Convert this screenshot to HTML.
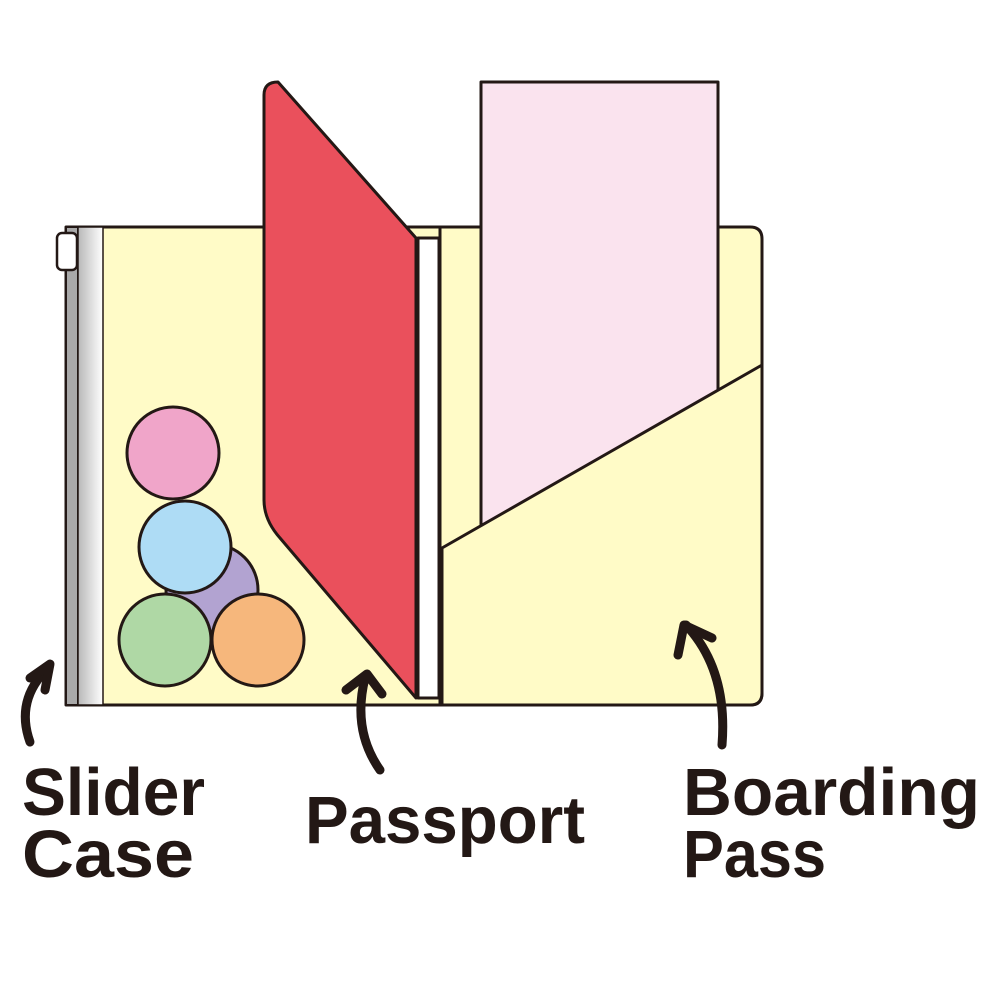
<!DOCTYPE html>
<html><head><meta charset="utf-8"><style>
html,body{margin:0;padding:0;background:#fff;}
svg{display:block}
text{font-family:"Liberation Sans",sans-serif;font-weight:bold;fill:#231815;font-size:67px}
</style></head><body>
<svg width="1000" height="1000" viewBox="0 0 1000 1000" xmlns="http://www.w3.org/2000/svg">
<defs>
<linearGradient id="g" x1="0" x2="1" y1="0" y2="0">
<stop offset="0" stop-color="#b8b8b8"/><stop offset="1" stop-color="#ffffff"/>
</linearGradient>
</defs>
<g stroke="#231815" stroke-width="3" stroke-linejoin="round">
<!-- case -->
<path d="M66 227 H750 Q762 227 762 239 V693 Q762 705 750 705 H66 Z" fill="#fffbc7"/>
<rect x="66" y="227" width="12" height="478" fill="#a9a9a9" stroke-width="2"/>
<rect x="78" y="227" width="25" height="478" fill="url(#g)" stroke-width="1.5"/>
<rect x="57" y="233" width="20" height="37" rx="5" fill="#fff" stroke-width="2.5"/>
<line x1="440" y1="227" x2="440" y2="705"/>
<!-- boarding pass -->
<rect x="481" y="82" width="237" height="460" fill="#fae3ee"/>
<path d="M442 548 L762 365 V693 Q762 705 750 705 H442 Z" fill="#fffbc7"/>
<!-- white strip -->
<rect x="418" y="238" width="21" height="460" fill="#fff"/>
<!-- passport -->
<path d="M264 95 Q264 82 278 82 L416 238 V698 L280 538 Q264 520 264 500 Z" fill="#ea505c"/>
<!-- circles -->
<circle cx="173" cy="453" r="46" fill="#f0a5c9"/>
<circle cx="212" cy="590" r="46" fill="#b2a3d1"/>
<circle cx="185" cy="547" r="46" fill="#aedcf5"/>
<circle cx="165" cy="640" r="46" fill="#afd8a5"/>
<circle cx="258" cy="640" r="46" fill="#f6b77c"/>
</g>
<!-- arrows -->
<g fill="none" stroke="#231815" stroke-width="9" stroke-linecap="round" stroke-linejoin="round">
<path d="M30 742 Q15 700 48 668"/>
<path d="M30 678 L50 664 L45 690"/>
<path d="M380 770 Q352 730 365 678"/>
<path d="M346 690 L367 674 L382 694"/>
<path d="M722 745 Q728 670 686 625"/>
<path d="M678 655 L684 625 L712 638"/>
</g>
<text x="22" y="815" textLength="183" lengthAdjust="spacingAndGlyphs">Slider</text>
<text x="22" y="877" textLength="172" lengthAdjust="spacingAndGlyphs">Case</text>
<text x="305" y="843" textLength="280" lengthAdjust="spacingAndGlyphs">Passport</text>
<text x="683" y="815" textLength="297" lengthAdjust="spacingAndGlyphs">Boarding</text>
<text x="683" y="877" textLength="143" lengthAdjust="spacingAndGlyphs">Pass</text>
</svg>
</body></html>
